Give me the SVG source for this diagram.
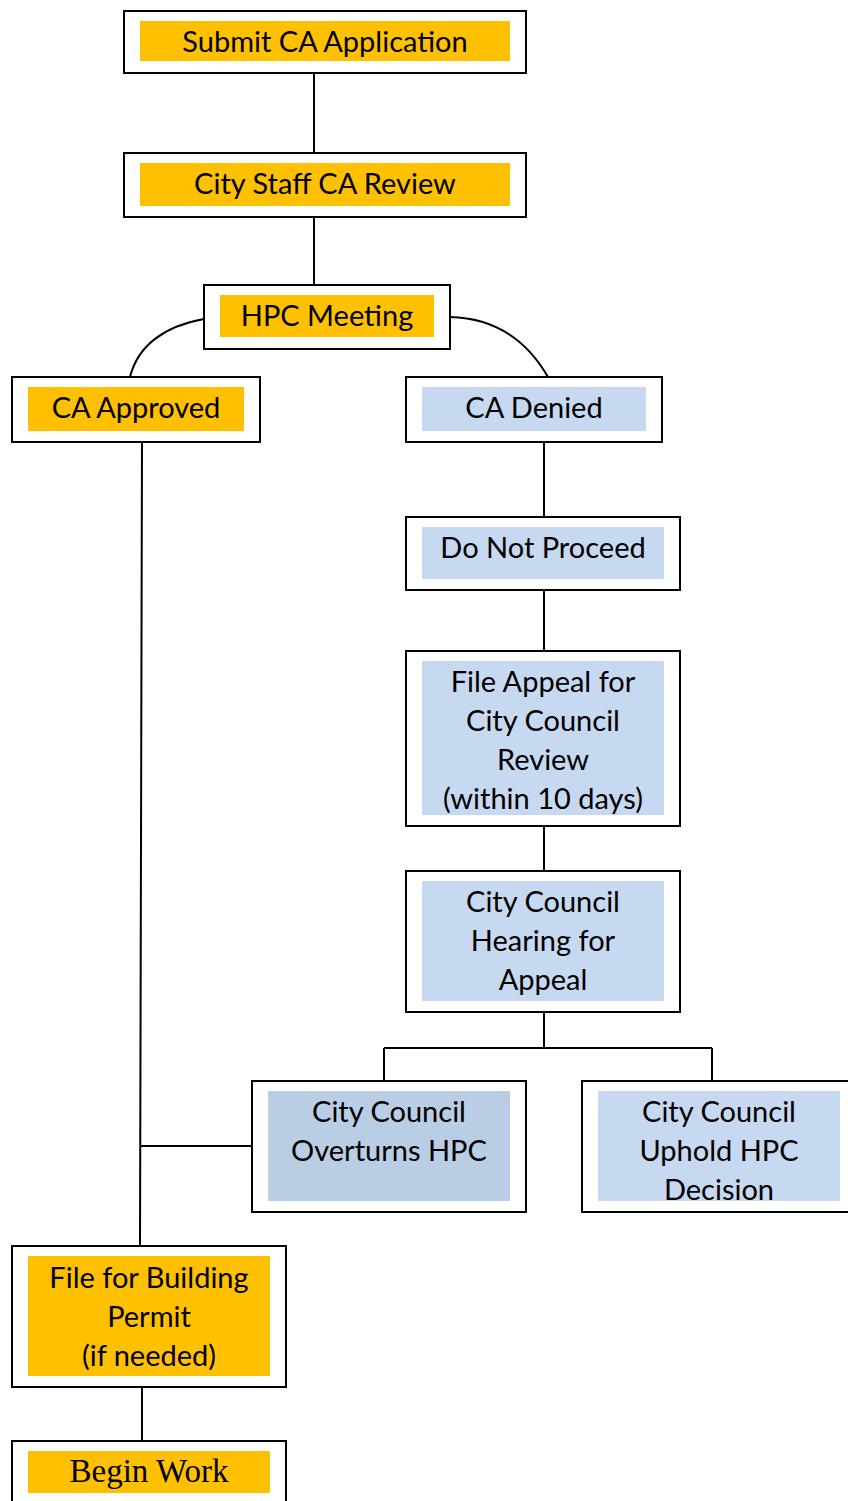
<svg xmlns="http://www.w3.org/2000/svg" width="848" height="1501" viewBox="0 0 848 1501">
<style>
.o{fill:#fff;stroke:#000;stroke-width:2}
.y{fill:#FFC000}
.b{fill:#C6D9F1}
.b2{fill:#B9CDE5}
.t{font-family:Lato,"Open Sans",sans-serif;font-size:29px;fill:#000;text-anchor:middle}
.s{font-family:"Liberation Serif",serif;font-size:33px;fill:#000;text-anchor:middle}
.c{fill:none;stroke:#000;stroke-width:2}
</style>
<rect width="848" height="1501" fill="#fff"/>
<g id="connectors">
<path class="c" d="M314 73V153M314 217V285"/>
<path class="c" d="M204 319C165 326 138 345 130 377"/>
<path class="c" d="M450 317C492 318 525 337 548 377"/>
<path class="c" d="M544 442V517M544 590V651M544 826V871M544 1012V1048M384 1048H712M384 1048V1081M712 1048V1081"/>
<path class="c" d="M142 442L140 1246M140 1146H252M142 1387V1441"/>
</g>
<g id="n1"><rect class="o" x="124" y="11" width="402" height="62"/><rect class="y" x="140" y="21" width="370" height="40"/><text class="t" x="325" y="52">Submit CA Application</text></g>
<g id="n2"><rect class="o" x="124" y="153" width="402" height="64"/><rect class="y" x="140" y="163" width="370" height="43"/><text class="t" x="325" y="194">City Staff CA Review</text></g>
<g id="n3"><rect class="o" x="204" y="285" width="246" height="64"/><rect class="y" x="220" y="295" width="214" height="42"/><text class="t" x="327" y="326">HPC Meeting</text></g>
<g id="n4"><rect class="o" x="12" y="377" width="248" height="65"/><rect class="y" x="28" y="387" width="216" height="44"/><text class="t" x="136" y="418">CA Approved</text></g>
<g id="n5"><rect class="o" x="406" y="377" width="256" height="65"/><rect class="b" x="422" y="387" width="224" height="44"/><text class="t" x="534" y="418">CA Denied</text></g>
<g id="n6"><rect class="o" x="406" y="517" width="274" height="73"/><rect class="b" x="422" y="527" width="242" height="52"/><text class="t" x="543" y="558">Do Not Proceed</text></g>
<g id="n7"><rect class="o" x="406" y="651" width="274" height="175"/><rect class="b" x="422" y="661" width="242" height="154"/><text class="t" x="543"><tspan x="543" y="692">File Appeal for</tspan><tspan x="543" y="731">City Council</tspan><tspan x="543" y="770">Review</tspan><tspan x="543" y="809">(within 10 days)</tspan></text></g>
<g id="n8"><rect class="o" x="406" y="871" width="274" height="141"/><rect class="b" x="422" y="881" width="242" height="120"/><text class="t" x="543"><tspan x="543" y="912">City Council</tspan><tspan x="543" y="951">Hearing for</tspan><tspan x="543" y="990">Appeal</tspan></text></g>
<g id="n9"><rect class="o" x="252" y="1081" width="274" height="131"/><rect class="b2" x="268" y="1091" width="242" height="110"/><text class="t" x="389"><tspan x="389" y="1122">City Council</tspan><tspan x="389" y="1161">Overturns HPC</tspan></text></g>
<g id="n10"><rect class="o" x="582" y="1081" width="274" height="131"/><rect class="b" x="598" y="1091" width="242" height="110"/><text class="t" x="719"><tspan x="719" y="1122">City Council</tspan><tspan x="719" y="1161">Uphold HPC</tspan><tspan x="719" y="1200">Decision</tspan></text></g>
<g id="n11"><rect class="o" x="12" y="1246" width="274" height="141"/><rect class="y" x="28" y="1256" width="242" height="120"/><text class="t" x="149"><tspan x="149" y="1288">File for Building</tspan><tspan x="149" y="1327">Permit</tspan><tspan x="149" y="1366">(if needed)</tspan></text></g>
<g id="n12"><rect class="o" x="12" y="1441" width="274" height="80"/><rect class="y" x="28" y="1451" width="242" height="42"/><text class="s" x="149" y="1482">Begin Work</text></g>
</svg>
